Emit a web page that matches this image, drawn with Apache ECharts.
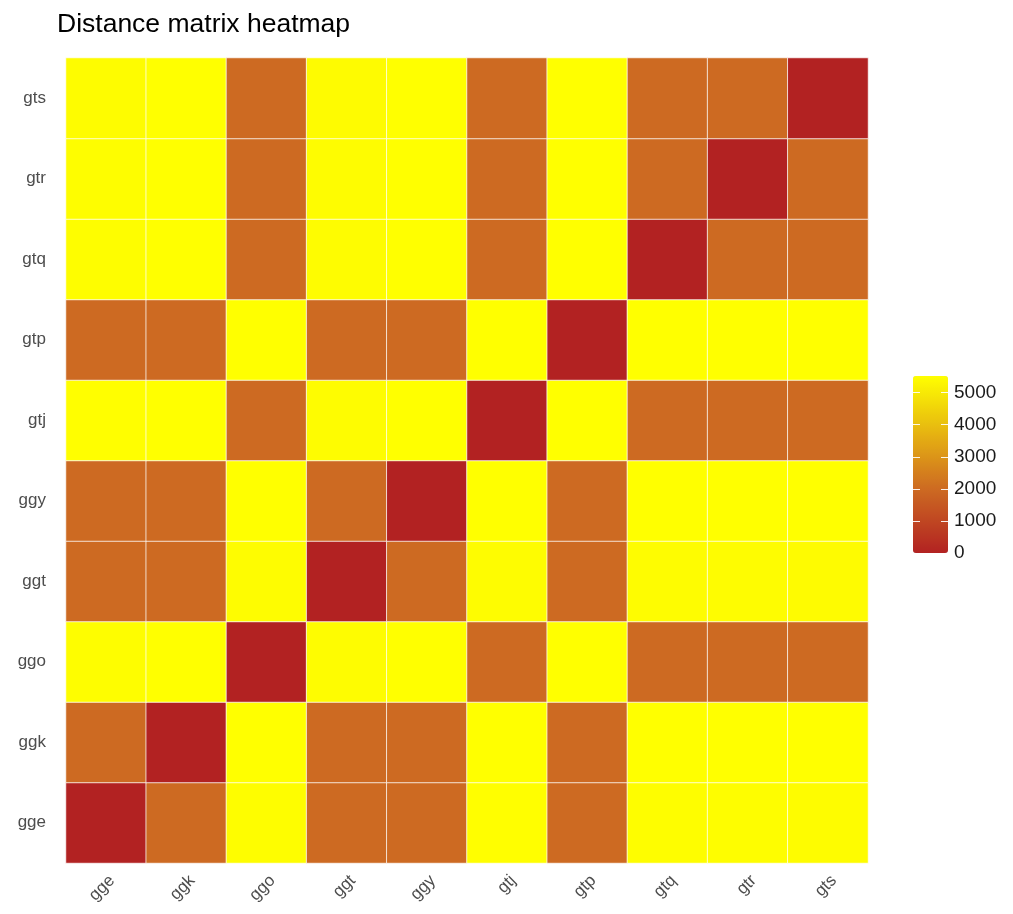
<!DOCTYPE html>
<html>
<head>
<meta charset="utf-8">
<script src="https://cdn.jsdelivr.net/npm/echarts@6/dist/echarts.min.js"></script>
<style>
  html, body { margin: 0; padding: 0; background: #fff; }
  #heatmap { width: 1013px; height: 914px; }
</style>
</head>
<body>
<div id="heatmap"></div>
<script>
// samples, same order on both axes (y goes bottom to top)
const samples = ['gge', 'ggk', 'ggo', 'ggt', 'ggy', 'gtj', 'gtp', 'gtq', 'gtr', 'gts']

// distance matrix, row i = samples[i], column j = samples[j]
const distances = [
    // gge   ggk   ggo   ggt   ggy   gtj   gtp   gtq   gtr   gts
    [   0, 1980, 5470, 1990, 1980, 5500, 1980, 5470, 5470, 5460], // gge
    [1980,    0, 5520, 1990, 1980, 5520, 1990, 5520, 5520, 5520], // ggk
    [5470, 5520,    0, 5440, 5520, 1980, 5520, 1990, 1990, 1990], // ggo
    [1990, 1990, 5440,    0, 1990, 5440, 1990, 5440, 5440, 5430], // ggt
    [1980, 1980, 5520, 1990,    0, 5520, 1990, 5520, 5520, 5520], // ggy
    [5500, 5520, 1980, 5440, 5520,    0, 5520, 1990, 1990, 1990], // gtj
    [1980, 1990, 5520, 1990, 1990, 5520,    0, 5520, 5520, 5520], // gtp
    [5470, 5520, 1990, 5440, 5520, 1990, 5520,    0, 1990, 1990], // gtq
    [5470, 5520, 1990, 5440, 5520, 1990, 5520, 1990,    0, 1990], // gtr
    [5460, 5520, 1990, 5430, 5520, 1990, 5520, 1990, 1990,    0]  // gts
]

const legendTicks = [0, 1000, 2000, 3000, 4000, 5000]
const scaleMin = 0
const scaleMax = 5520
const scaleMid = 2000

// firebrick -> chocolate (at scaleMid) -> yellow, sampled into even stops
function buildPalette(n) {
    const low = [178, 34, 34], mid = [205, 106, 34], high = [255, 255, 0]
    const midPos = (scaleMid - scaleMin) / (scaleMax - scaleMin)
    const out = []
    for (let i = 0; i < n; i++) {
        const t = i / (n - 1)
        let a, b, f
        if (t <= midPos) { a = low; b = mid; f = t / midPos }
        else { a = mid; b = high; f = (t - midPos) / (1 - midPos) }
        const c = a.map((v, k) => Math.round(v + (b[k] - v) * f))
        out.push(`rgb(${c[0]},${c[1]},${c[2]})`)
    }
    return out
}

const cells = []
distances.forEach((row, i) => {
    row.forEach((v, j) => cells.push([j, i, v]))
})

const chart = echarts.init(document.getElementById('heatmap'), null, {renderer: 'canvas'})

const fontFamily = 'Liberation Sans, Arial, sans-serif'

chart.setOption({
    animation: false,
    title: {
        text: 'Distance matrix heatmap',
        left: 52,
        top: 6,
        textStyle: {fontFamily: fontFamily, fontSize: 26.5, fontWeight: 'normal', color: '#000'}
    },
    grid: [
        {left: 66, top: 58, right: 145, bottom: 51},
        {left: 913, top: 376, width: 35, height: 177}
    ],
    xAxis: [
        {
            type: 'category',
            data: samples,
            axisLine: {show: false},
            axisTick: {show: false},
            splitLine: {show: false},
            axisLabel: {
                rotate: 45, margin: 9, verticalAlign: 'top',
                color: '#4d4d4d', fontFamily: fontFamily, fontSize: 17
            }
        },
        {gridIndex: 1, type: 'value', show: false}
    ],
    yAxis: [
        {
            type: 'category',
            data: samples,
            axisLine: {show: false},
            axisTick: {show: false},
            splitLine: {show: false},
            axisLabel: {margin: 20, color: '#4d4d4d', fontFamily: fontFamily, fontSize: 17}
        },
        {
            gridIndex: 1,
            type: 'value',
            position: 'right',
            min: scaleMin,
            max: scaleMax,
            interval: 1000,
            z: 10,
            axisLine: {show: false},
            axisTick: {show: false},
            // short white marks on both edges of the colour bar
            splitLine: {
                show: true,
                showMaxLine: false,
                lineStyle: {color: 'rgba(255,255,255,0.9)', width: 1, type: [7, 21]}
            },
            axisLabel: {
                margin: 6,
                color: '#1a1a1a',
                fontFamily: fontFamily,
                fontSize: 19,
                formatter: v => legendTicks.includes(v) ? String(v) : ''
            }
        }
    ],
    visualMap: {
        type: 'continuous',
        min: scaleMin,
        max: scaleMax,
        calculable: false,
        orient: 'vertical',
        left: 913,
        top: 376,
        padding: 0,
        itemWidth: 35,
        itemHeight: 177,
        z: 1,
        seriesIndex: 0,
        inRange: {color: buildPalette(41)}
    },
    series: [{
        type: 'heatmap',
        data: cells,
        itemStyle: {borderColor: 'rgba(255,255,255,0.75)', borderWidth: 1},
        emphasis: {disabled: true}
    }]
})
</script>
</body>
</html>
